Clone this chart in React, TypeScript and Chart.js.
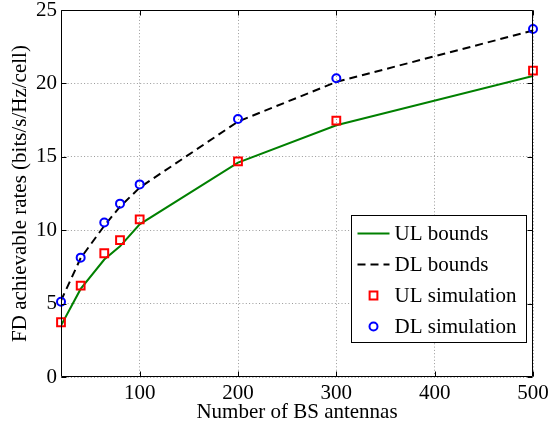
import React, { useEffect, useRef } from 'react';
import { Chart, registerables } from 'chart.js';

Chart.register(...registerables);

const antennas = [20, 40, 64, 80, 100, 200, 300, 500];
const ulBounds = [3.5, 6.0, 8.0, 8.9, 10.4, 14.6, 17.15, 20.5];
const dlBounds = [5.2, 8.1, 10.3, 11.6, 12.9, 17.4, 20.1, 23.6];
const ulSimulation = [3.73, 6.22, 8.43, 9.32, 10.74, 14.69, 17.46, 20.87];
const dlSimulation = [5.13, 8.13, 10.52, 11.81, 13.12, 17.57, 20.35, 23.71];
const xTicks = [100, 200, 300, 400, 500];
const yTicks = [0, 5, 10, 15, 20, 25];
const seriesLabels = ['UL bounds', 'DL bounds', 'UL simulation', 'DL simulation'];
const xTitle = 'Number of BS antennas';
const yTitle = 'FD achievable rates (bits/s/Hz/cell)';

const FONT = "'Liberation Serif', 'Times New Roman', serif";

const toPoints = (ys: number[]) => antennas.map((x, i) => ({ x, y: ys[i] }));

const framePlugin = {
  id: 'frame',
  afterDatasetsDraw(chart: any) {
    const { ctx, chartArea } = chart;
    const { left, right, top, bottom } = chartArea;
    const xs = chart.scales.x;
    const ys = chart.scales.y;
    ctx.save();
    ctx.setLineDash([]);
    ctx.strokeStyle = '#000';
    ctx.lineWidth = 1;
    const L = Math.round(left) + 0.5;
    const R = Math.round(right) - 0.5;
    const T = Math.round(top) + 0.5;
    const B = Math.round(bottom) - 0.5;
    ctx.beginPath();
    ctx.rect(L, T, R - L, B - T);
    ctx.stroke();
    const tl = 5;
    ctx.beginPath();
    xTicks.forEach((v) => {
      const px = Math.round(xs.getPixelForValue(v)) + 0.5;
      ctx.moveTo(px, B);
      ctx.lineTo(px, B - tl);
      ctx.moveTo(px, T);
      ctx.lineTo(px, T + tl);
    });
    yTicks.forEach((v) => {
      const py = Math.round(ys.getPixelForValue(v)) + 0.5;
      ctx.moveTo(L, py);
      ctx.lineTo(L + tl, py);
      ctx.moveTo(R, py);
      ctx.lineTo(R - tl, py);
    });
    ctx.stroke();
    ctx.restore();
  },
};

const legendPlugin = {
  id: 'boxLegend',
  afterDraw(chart: any) {
    const { ctx, chartArea } = chart;
    const w = 175;
    const h = 127;
    const bx = Math.round(chartArea.right - 7 - w) + 0.5;
    const by = Math.round(chartArea.bottom - 35 - h) + 0.5;
    ctx.save();
    ctx.setLineDash([]);
    ctx.fillStyle = '#fff';
    ctx.fillRect(bx, by, w, h);
    ctx.strokeStyle = '#000';
    ctx.lineWidth = 1;
    ctx.strokeRect(bx, by, w, h);
    ctx.font = `21px ${FONT}`;
    ctx.textBaseline = 'middle';
    ctx.textAlign = 'left';
    chart.data.datasets.forEach((ds: any, i: number) => {
      const cy = by + 18 + i * 31;
      const sx0 = bx + 6;
      const sx1 = bx + 38;
      if (ds.showLine) {
        ctx.beginPath();
        ctx.strokeStyle = ds.borderColor;
        ctx.lineWidth = ds.borderWidth;
        ctx.setLineDash(ds.borderDash || []);
        ctx.moveTo(sx0, cy);
        ctx.lineTo(sx1, cy);
        ctx.stroke();
        ctx.setLineDash([]);
      } else {
        ctx.strokeStyle = ds.pointBorderColor;
        ctx.lineWidth = ds.pointBorderWidth;
        const cx = (sx0 + sx1) / 2;
        ctx.beginPath();
        if (ds.pointStyle === 'rect') {
          const s = Math.SQRT1_2 * ds.pointRadius;
          ctx.rect(cx - s, cy - s, 2 * s, 2 * s);
        } else {
          ctx.arc(cx, cy, ds.pointRadius, 0, Math.PI * 2);
        }
        ctx.stroke();
      }
      ctx.fillStyle = '#000';
      ctx.fillText(ds.label, bx + 43, cy + 1);
    });
    ctx.restore();
  },
};

export default function App() {
  const ref = useRef<HTMLCanvasElement | null>(null);
  useEffect(() => {
    if (!ref.current) return;
    const chart = new Chart(ref.current, {
      type: 'scatter',
      data: {
        datasets: [
          {
            label: seriesLabels[0],
            data: toPoints(ulBounds),
            showLine: true,
            borderColor: '#008000',
            borderWidth: 2,
            pointRadius: 0,
            order: 2,
          },
          {
            label: seriesLabels[1],
            data: toPoints(dlBounds),
            showLine: true,
            borderColor: '#000000',
            borderWidth: 2,
            borderDash: [8, 5],
            pointRadius: 0,
            order: 2,
          },
          {
            label: seriesLabels[2],
            data: toPoints(ulSimulation),
            showLine: false,
            pointStyle: 'rect',
            pointRadius: 5.5,
            pointBorderColor: '#ff0000',
            pointBackgroundColor: 'rgba(0,0,0,0)',
            pointBorderWidth: 2,
            clip: false,
            order: 1,
          },
          {
            label: seriesLabels[3],
            data: toPoints(dlSimulation),
            showLine: false,
            pointStyle: 'circle',
            pointRadius: 4,
            pointBorderColor: '#0000ff',
            pointBackgroundColor: 'rgba(0,0,0,0)',
            pointBorderWidth: 2,
            clip: false,
            order: 1,
          },
        ],
      } as any,
      options: {
        animation: false,
        responsive: false,
        layout: { padding: { top: 10, right: 15, left: 0, bottom: 0 } },
        plugins: { legend: { display: false }, tooltip: { enabled: false } },
        scales: {
          x: {
            type: 'linear',
            min: 20,
            max: 500,
            afterBuildTicks: (s: any) => {
              s.ticks = xTicks.map((v) => ({ value: v }));
            },
            afterFit: (s: any) => {
              s.height = 48;
              s.paddingLeft = 0;
              s.paddingRight = 0;
            },
            grid: { color: '#9a9a9a', drawTicks: false, lineWidth: 1 },
            border: { display: false, dash: [1, 2.3] },
            ticks: { color: '#000', font: { family: FONT, size: 21 }, padding: 4, maxRotation: 0 },
            title: {
              display: true,
              text: xTitle,
              color: '#000',
              font: { family: FONT, size: 21 },
              padding: { top: 0, bottom: 0 },
            },
          },
          y: {
            type: 'linear',
            min: 0,
            max: 25,
            afterBuildTicks: (s: any) => {
              s.ticks = yTicks.map((v) => ({ value: v }));
            },
            afterFit: (s: any) => {
              s.width = 61;
              s.paddingTop = 0;
              s.paddingBottom = 0;
            },
            grid: { color: '#9a9a9a', drawTicks: false, lineWidth: 1 },
            border: { display: false, dash: [1, 2.3] },
            ticks: { color: '#000', font: { family: FONT, size: 21 }, padding: 4 },
            title: {
              display: true,
              text: yTitle,
              color: '#000',
              font: { family: FONT, size: 21 },
              padding: { top: 8, bottom: 0 },
            },
          },
        },
      } as any,
      plugins: [framePlugin, legendPlugin],
    });
    return () => chart.destroy();
  }, []);
  return (
    <div style={{ position: 'absolute', left: 0, top: 0, width: 548, height: 425, background: '#fff' }}>
      <canvas ref={ref} width={548} height={425} style={{ display: 'block' }} />
    </div>
  );
}
